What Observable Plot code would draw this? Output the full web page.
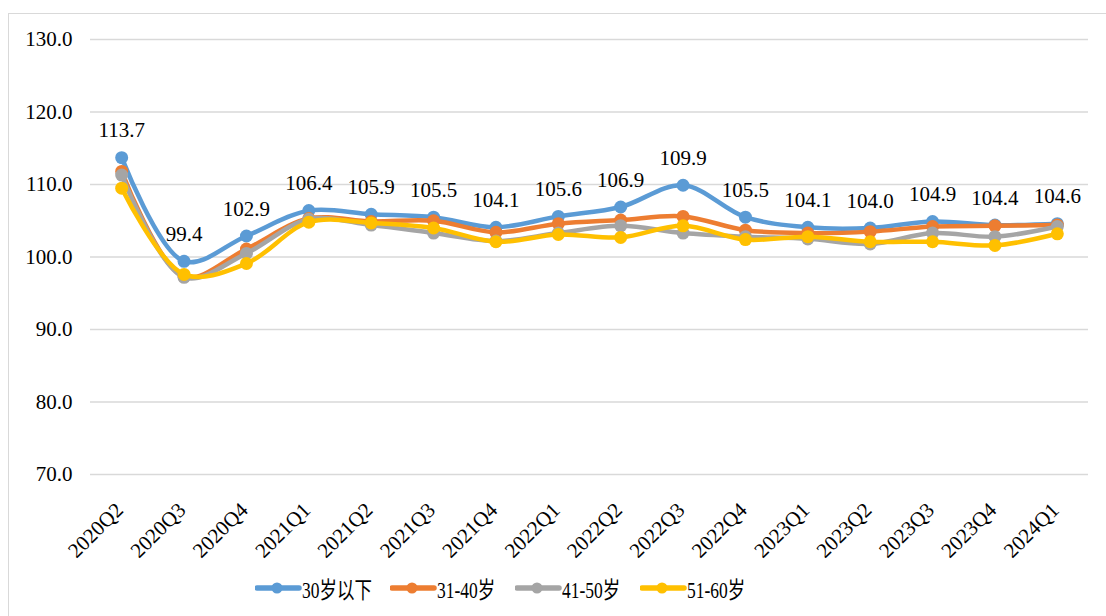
<!DOCTYPE html>
<html>
<head>
<meta charset="utf-8">
<script src="https://cdn.jsdelivr.net/npm/d3@7"></script>
<script src="https://cdn.jsdelivr.net/npm/@observablehq/plot@0.6"></script>
<style>
  body { margin: 0; background: #fff; }
  #wrap { position: relative; width: 1106px; height: 616px; overflow: hidden; }
  #frame { position: absolute; left: 8px; top: 13px; width: 1200px; height: 700px;
           border-top: 1.5px solid #d9d9d9; border-left: 1.5px solid #d9d9d9; }
  #chart { position: absolute; left: 0; top: 0; }
  #chart svg text { font-family: "Liberation Serif"; }
  #legend { position: absolute; top: 573px; left: 0; width: 1106px; height: 30px;
            font-family: "Liberation Serif", "Noto Sans CJK SC"; font-size: 23px; }
  .item { position: absolute; top: 0; height: 30px; display: flex; align-items: center; }
  .item span { display: inline-block; transform: scaleX(0.76); transform-origin: left center; white-space: nowrap; }
</style>
</head>
<body>
<div id="wrap">
  <div id="frame"></div>
  <div id="chart"></div>
  <div id="legend"></div>
</div>
<script>
const quarters = ["2020Q2","2020Q3","2020Q4","2021Q1","2021Q2","2021Q3","2021Q4","2022Q1",
                  "2022Q2","2022Q3","2022Q4","2023Q1","2023Q2","2023Q3","2023Q4","2024Q1"];
const seriesNames = ["30岁以下", "31-40岁", "41-50岁", "51-60岁"];
const seriesColors = ["#5b9bd5", "#ed7d31", "#a5a5a5", "#ffc000"];
const under30 = [113.7, 99.4, 102.9, 106.4, 105.9, 105.5, 104.1, 105.6, 106.9, 109.9, 105.5, 104.1, 104.0, 104.9, 104.4, 104.6];
const age31to40 = [111.8, 97.3, 101.1, 105.3, 104.9, 105.0, 103.4, 104.6, 105.1, 105.6, 103.7, 103.3, 103.5, 104.2, 104.3, 104.4];
const age41to50 = [111.3, 97.2, 100.5, 105.2, 104.4, 103.3, 102.2, 103.3, 104.3, 103.3, 102.8, 102.5, 101.8, 103.3, 102.8, 104.2];
const age51to60 = [109.5, 97.6, 99.1, 104.8, 104.7, 104.0, 102.1, 103.1, 102.7, 104.3, 102.4, 102.8, 102.1, 102.1, 101.6, 103.2];
const yTicks = [70, 80, 90, 100, 110, 120, 130];

const allSeries = [under30, age31to40, age41to50, age51to60];
const rows = allSeries.map(vals => quarters.map((q, i) => ({ quarter: q, value: vals[i] })));

const serif = "Liberation Serif";

const lineMarks = rows.flatMap((data, k) => [
  Plot.line(data, { x: "quarter", y: "value", stroke: seriesColors[k], strokeWidth: 4.5, curve: "catmull-rom" }),
  Plot.dot(data, { x: "quarter", y: "value", fill: seriesColors[k], r: 6.5 })
]);

const chart = Plot.plot({
  width: 1106,
  height: 565,
  marginLeft: 90,
  marginRight: 18,
  marginTop: 39,
  marginBottom: 91,
  style: { background: "transparent", fontFamily: serif, fontSize: "21px", color: "#000" },
  x: { type: "point", domain: quarters, padding: 0.5, round: false, label: null },
  y: { domain: [70, 130], label: null },
  marks: [
    Plot.ruleY(yTicks, { stroke: "#d9d9d9", strokeWidth: 1.5 }),
    Plot.axisY(yTicks, { tickSize: 0, tickPadding: 18, tickFormat: d => d.toFixed(1), fontSize: 21, fill: "#000", label: null }),
    Plot.axisX({ tickSize: 0, tickPadding: 32, dx: -2, tickRotate: -45, fontSize: 21, fill: "#000", label: null }),
    ...lineMarks,
    Plot.text(rows[0], { x: "quarter", y: "value", text: d => d.value.toFixed(1), dy: -27, fontSize: 21, fill: "#000" })
  ]
});
document.getElementById("chart").replaceChildren(chart);

// legend
const legendX = [255, 390, 515, 640];
const legend = document.getElementById("legend");
seriesNames.forEach((name, k) => {
  const item = document.createElement("div");
  item.className = "item";
  item.style.left = legendX[k] + "px";
  item.innerHTML = `<svg width="47" height="30"><line x1="2" y1="15" x2="44" y2="15" stroke="${seriesColors[k]}" stroke-width="5.5" stroke-linecap="round"/><circle cx="22" cy="15" r="5.5" fill="${seriesColors[k]}"/></svg><span>${name}</span>`;
  legend.appendChild(item);
});
</script>
</body>
</html>
